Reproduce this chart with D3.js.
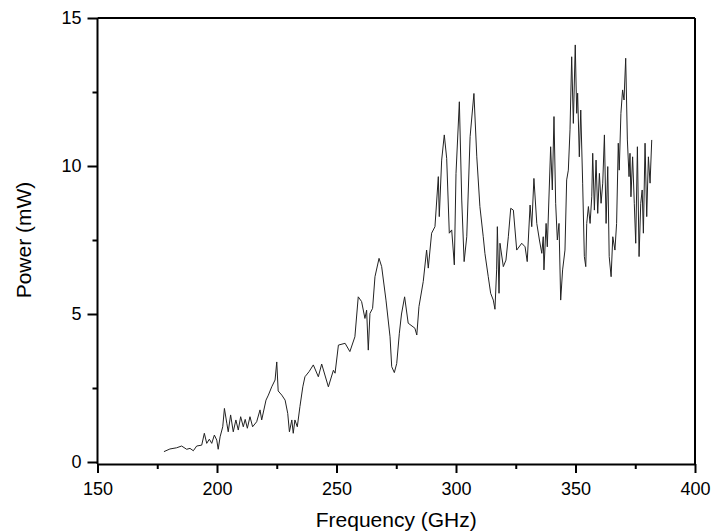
<!DOCTYPE html>
<html>
<head>
<meta charset="utf-8">
<script src="https://cdn.jsdelivr.net/npm/d3@7"></script>
<style>
  body { margin: 0; background: #fff; }
  text { font-family: "Liberation Sans", Arial, sans-serif; }
</style>
</head>
<body>
<div id="chart"></div>
<script>
const freq = [
  177.8, 180.3, 183.1, 185.2, 187.3, 188.7, 190.1, 191.5, 193.6, 194.7,
  195.7, 196.8, 197.8, 198.9, 199.9, 200.5, 201.3, 202.4, 203.1, 204.1,
  204.7, 205.7, 206.8, 207.9, 208.9, 209.9, 211.0, 211.8, 212.7, 213.8,
  214.9, 216.6, 218.0, 218.7, 220.5, 221.5, 222.9, 224.3, 225.0, 225.6,
  227.1, 228.5, 229.6, 230.3, 231.3, 231.9, 232.6, 233.6, 234.7, 235.9,
  236.8, 238.5, 240.3, 242.4, 243.8, 246.6, 248.7, 249.4, 250.8, 253.6,
  255.6, 257.7, 259.1, 260.5, 261.9, 262.6, 263.3, 264.0, 265.1, 266.1,
  267.8, 268.9, 270.7, 272.4, 273.1, 274.2, 275.2, 276.3, 277.2, 278.5,
  280.0, 282.8, 283.6, 284.5, 286.3, 287.7, 288.4, 289.8, 291.2, 292.6,
  293.0, 294.0, 295.1, 296.1, 297.2, 298.2, 299.3, 300.0, 301.4, 302.4,
  303.4, 304.5, 305.9, 307.5, 308.7, 310.0, 311.4, 312.1, 313.5, 314.5,
  315.6, 316.3, 317.0, 317.3, 318.0, 318.4, 319.8, 320.9, 321.9, 322.9,
  324.0, 325.4, 327.5, 328.9, 329.8, 331.0, 331.7, 332.6, 333.8, 334.9,
  335.9, 336.5, 336.8, 337.7, 338.2, 339.6, 340.3, 341.0, 341.7, 342.4,
  343.1, 343.8, 344.6, 345.6, 346.3, 347.0, 347.7, 348.4, 349.1, 349.9,
  350.5, 350.9, 351.6, 352.2, 353.0, 353.7, 354.3, 354.7, 355.4, 356.1,
  356.8, 357.2, 357.9, 358.6, 359.3, 360.0, 360.7, 361.4, 362.1, 362.8,
  363.5, 364.1, 364.9, 365.6, 366.5, 367.2, 367.9, 368.3, 369.0, 369.7,
  370.3, 371.0, 371.7, 372.4, 372.8, 373.2, 373.9, 374.6, 375.2, 375.9,
  376.6, 377.3, 377.9, 378.4, 379.1, 379.8, 380.5, 381.2, 381.9
];
const power = [
  0.35, 0.44, 0.48, 0.54, 0.43, 0.46, 0.38, 0.54, 0.57, 0.97,
  0.63, 0.77, 0.63, 0.91, 0.74, 0.43, 0.85, 1.19, 1.81, 1.31,
  1.02, 1.59, 1.02, 1.42, 1.08, 1.53, 1.19, 1.44, 1.14, 1.53,
  1.19, 1.36, 1.76, 1.42, 2.09, 2.26, 2.54, 2.77, 3.38, 2.40,
  2.26, 2.09, 1.64, 1.02, 1.42, 0.97, 1.42, 1.19, 1.87, 2.54,
  2.88, 3.05, 3.28, 2.88, 3.31, 2.54, 3.10, 3.00, 3.95, 4.01,
  3.73, 4.23, 5.58, 5.42, 4.85, 5.13, 3.78, 5.02, 5.19, 6.26,
  6.88, 6.60, 5.47, 4.23, 3.22, 3.02, 3.33, 4.35, 5.00, 5.58,
  4.69, 4.52, 4.29, 5.25, 6.10, 7.16, 6.55, 7.73, 7.95, 9.64,
  8.29, 10.20, 11.05, 10.26, 7.73, 7.84, 6.66, 9.75, 12.17, 8.85,
  6.77, 7.61, 10.99, 12.45, 10.31, 8.63, 7.61, 7.05, 6.26, 5.70,
  5.47, 5.16, 6.49, 7.95, 5.70, 7.39, 6.60, 6.82, 7.61, 8.57,
  8.51, 7.16, 7.39, 7.27, 6.77, 8.68, 7.95, 9.58, 8.06, 7.50,
  7.05, 7.61, 6.49, 8.06, 7.27, 10.65, 9.19, 11.67, 8.74, 7.50,
  8.06, 5.47, 6.49, 7.16, 9.53, 9.86, 11.22, 13.69, 11.44, 14.09,
  11.78, 12.46, 10.31, 11.89, 9.42, 6.94, 6.60, 8.06, 8.63, 8.06,
  8.96, 10.43, 8.51, 10.20, 8.40, 9.75, 8.74, 9.42, 11.05, 8.06,
  9.98, 6.94, 6.26, 7.61, 7.16, 8.06, 10.77, 9.86, 11.78, 12.57,
  12.23, 13.64, 10.88, 9.64, 10.43, 8.96, 10.31, 8.74, 7.39, 10.65,
  6.94, 8.74, 9.19, 7.73, 10.77, 8.29, 10.31, 9.42, 10.88
];
const xTicks = [150, 200, 250, 300, 350, 400];
const xMinor = [175, 225, 275, 325, 375];
const yTicks = [0, 5, 10, 15];
const yMinor = [2.5, 7.5, 12.5];

const data = freq.map((f, i) => ({f: f, p: power[i]}));

let margin = {top: 18, right: 26, bottom: 69, left: 97.5},
  W = 721, H = 531,
  width = W - margin.left - margin.right,
  height = H - margin.top - margin.bottom;

let svg = d3.select("#chart")
  .append("svg")
  .attr("width", W)
  .attr("height", H);

let g = svg.append("g")
  .attr("transform", "translate(" + margin.left + "," + margin.top + ")");

let x = d3.scaleLinear().domain([150, 400]).range([0, width]);
let y = d3.scaleLinear().domain([0, 15]).range([height, 0]);

const axisGap = 2; // x axis sits a little under y = 0

// frame: top and right spines
g.append("line")
  .attr("x1", 0).attr("x2", width).attr("y1", 0).attr("y2", 0)
  .attr("stroke", "#000").attr("stroke-width", 2);
g.append("line")
  .attr("x1", width).attr("x2", width).attr("y1", 0).attr("y2", height + axisGap)
  .attr("stroke", "#000").attr("stroke-width", 2);

// minor ticks
g.append("g")
  .attr("transform", "translate(0," + (height + axisGap) + ")")
  .call(d3.axisBottom(x).tickValues(xMinor).tickSize(5).tickFormat(""))
  .call(a => a.select(".domain").remove())
  .selectAll("line").attr("stroke-width", 2);
g.append("g")
  .call(d3.axisLeft(y).tickValues(yMinor).tickSize(5).tickFormat(""))
  .call(a => a.select(".domain").remove())
  .selectAll("line").attr("stroke-width", 2);

// main axes
let xAxis = g.append("g")
  .attr("transform", "translate(0," + (height + axisGap) + ")")
  .call(d3.axisBottom(x).tickValues(xTicks).tickSize(9).tickSizeOuter(0).tickPadding(9));
let yAxis = g.append("g")
  .call(d3.axisLeft(y).tickValues(yTicks).tickSize(10).tickSizeOuter(0).tickPadding(6));

[xAxis, yAxis].forEach(a => {
  a.select(".domain").attr("stroke-width", 2);
  a.selectAll(".tick line").attr("stroke-width", 2);
  a.selectAll(".tick text")
    .attr("fill", "#000")
    .style("font-size", "18px")
    .style("font-family", "'Liberation Sans', Arial, sans-serif");
});
// left spine runs down to the x axis
yAxis.select(".domain").attr("d", "M0,0V" + (height + axisGap));

// the measured curve
g.append("path")
  .datum(data)
  .attr("fill", "none")
  .attr("stroke", "#222")
  .attr("stroke-width", 1)
  .attr("d", d3.line().x(d => x(d.f)).y(d => y(d.p)));

// axis titles
svg.append("text")
  .attr("x", margin.left + width / 2)
  .attr("y", 527)
  .attr("text-anchor", "middle")
  .style("font-size", "21px")
  .text("Frequency (GHz)");

svg.append("text")
  .attr("transform", "translate(31," + (margin.top + height / 2) + ") rotate(-90)")
  .attr("text-anchor", "middle")
  .style("font-size", "21px")
  .text("Power (mW)");
</script>
</body>
</html>
